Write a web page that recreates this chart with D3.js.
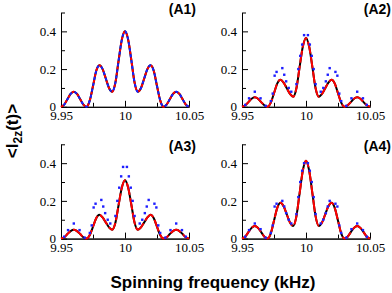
<!DOCTYPE html>
<html>
<head>
<meta charset="utf-8">
<script src="https://cdn.jsdelivr.net/npm/d3@7"></script>
<style>
  body { margin: 0; background: #fff; }
  .tick line, .domain { stroke: #000; stroke-width: 1px; }
  .title { font-family: "Liberation Sans", Arial, sans-serif; font-weight: bold; fill: #000; }
</style>
</head>
<body>
<div id="chart"></div>
<script>
// Spinning frequency grid (kHz) for the curves
var freq = [9.95, 9.9525, 9.955, 9.9575, 9.96, 9.9625, 9.965, 9.9675, 9.97, 9.9725,
  9.975, 9.9775, 9.98, 9.9825, 9.985, 9.9875, 9.99, 9.9925, 9.995, 9.9975, 10,
  10.0025, 10.005, 10.0075, 10.01, 10.0125, 10.015, 10.0175, 10.02, 10.0225, 10.025,
  10.0275, 10.03, 10.0325, 10.035, 10.0375, 10.04, 10.0425, 10.045, 10.0475, 10.05];

// exact (black) curves
var a1Exact = [0, 0.012, 0.04, 0.068, 0.08, 0.068, 0.04, 0.012, 0, 0.034, 0.11, 0.19, 0.22, 0.2, 0.15, 0.1, 0.08, 0.128, 0.245, 0.355, 0.4,
  0.355, 0.245, 0.128, 0.08, 0.1, 0.15, 0.2, 0.22, 0.19, 0.11, 0.034, 0, 0.012, 0.04, 0.068, 0.08, 0.068, 0.04, 0.012, 0];
var a2Exact = [0, 0.008, 0.025, 0.043, 0.05, 0.043, 0.025, 0.008, 0, 0.022, 0.072, 0.123, 0.143, 0.128, 0.098, 0.068, 0.053, 0.098, 0.21, 0.318, 0.365,
  0.318, 0.21, 0.098, 0.053, 0.068, 0.098, 0.128, 0.143, 0.123, 0.072, 0.022, 0, 0.008, 0.025, 0.043, 0.05, 0.043, 0.025, 0.008, 0];
var a3Exact = [0, 0.007, 0.024, 0.04, 0.047, 0.04, 0.024, 0.007, 0, 0.019, 0.063, 0.108, 0.126, 0.112, 0.086, 0.06, 0.047, 0.084, 0.178, 0.27, 0.31,
  0.27, 0.178, 0.084, 0.047, 0.06, 0.086, 0.112, 0.126, 0.108, 0.063, 0.019, 0, 0.007, 0.024, 0.04, 0.047, 0.04, 0.024, 0.007, 0];
var a4Exact = [0, 0.01, 0.034, 0.057, 0.067, 0.057, 0.034, 0.01, 0, 0.028, 0.095, 0.162, 0.19, 0.172, 0.128, 0.085, 0.067, 0.118, 0.24, 0.36, 0.413,
  0.36, 0.24, 0.118, 0.067, 0.085, 0.128, 0.172, 0.19, 0.162, 0.095, 0.028, 0, 0.01, 0.034, 0.057, 0.067, 0.057, 0.034, 0.01, 0];

// blue samples (A2-A4)
var blueFreq = [9.9525, 9.9555, 9.96, 9.9645, 9.9685, 9.9725, 9.974, 9.9755, 9.977, 9.9815, 9.983, 9.9845, 9.9865, 9.9885,
  9.9925, 9.994, 9.9955, 9.997, 9.9985, 10.0015, 10.003, 10.0045, 10.006, 10.0075,
  10.0115, 10.0135, 10.0155, 10.017, 10.0185, 10.023, 10.0245, 10.026, 10.0275, 10.0315, 10.0355, 10.04, 10.0445, 10.0475];
var a2Blue = [0.01, 0.045, 0.08, 0.045, 0.005, 0.03, 0.07, 0.165, 0.185, 0.205, 0.17, 0.135, 0.1, 0.08,
  0.12, 0.2, 0.27, 0.33, 0.38, 0.38, 0.33, 0.27, 0.2, 0.12,
  0.08, 0.1, 0.135, 0.17, 0.205, 0.185, 0.165, 0.07, 0.03, 0.005, 0.045, 0.08, 0.045, 0.01];
var a3Blue = a2Blue;
var a4Blue = [0.01, 0.045, 0.08, 0.05, 0.005, 0.03, 0.07, 0.17, 0.185, 0.2, 0.17, 0.135, 0.1, 0.08,
  0.13, 0.22, 0.3, 0.36, 0.4, 0.4, 0.36, 0.3, 0.22, 0.13,
  0.08, 0.1, 0.135, 0.17, 0.2, 0.185, 0.17, 0.07, 0.03, 0.005, 0.05, 0.08, 0.045, 0.01];

var yMajor = [0, 0.2, 0.4];
var yMinor = [0.1, 0.3, 0.5];
var xMajor = [9.95, 10, 10.05];
var xMinor = [9.975, 10.025];

var svgWidth = 392, svgHeight = 293;
var pw = 128, ph = 94.3;

var svg = d3.select("#chart").append("svg")
  .attr("width", svgWidth)
  .attr("height", svgHeight);

var panels = [
  { label: "(A1)", left: 61, top: 12.5, exact: a1Exact, blue: null, labelX: 196, labelY: 14 },
  { label: "(A2)", left: 242, top: 12.5, exact: a2Exact, blue: a2Blue, labelX: 391, labelY: 14 },
  { label: "(A3)", left: 61, top: 144.3, exact: a3Exact, blue: a3Blue, labelX: 196, labelY: 151 },
  { label: "(A4)", left: 242, top: 144.3, exact: a4Exact, blue: a4Blue, labelX: 391, labelY: 151 }
];

var x = d3.scaleLinear().domain([9.95, 10.05]).range([0, pw]);
var y = d3.scaleLinear().domain([0, 0.5]).range([ph, 0]);

var line = d3.line()
  .x(function(d) { return x(d[0]); })
  .y(function(d) { return y(d[1]); })
  .curve(d3.curveMonotoneX);

function serif(sel) {
  sel.selectAll("text")
    .style("font-family", '"Liberation Serif", "Times New Roman", serif')
    .style("font-size", "13px")
    .style("fill", "#000");
}

panels.forEach(function(p) {
  var g = svg.append("g").attr("transform", `translate(${p.left}, ${p.top})`);

  // minor ticks first (no labels), then major ticks with labels
  g.append("g")
    .attr("transform", `translate(0, ${ph})`)
    .call(d3.axisBottom(x).tickValues(xMinor).tickSizeInner(-4).tickSizeOuter(0).tickFormat(""));
  g.append("g")
    .attr("transform", `translate(0, ${ph})`)
    .call(d3.axisBottom(x).tickValues(xMajor).tickSizeInner(-6).tickSizeOuter(0).tickPadding(4)
      .tickFormat(function(d) { return d3.format("")(+d.toFixed(2)); }))
    .call(serif);
  g.append("g")
    .call(d3.axisLeft(y).tickValues(yMinor).tickSizeInner(-4).tickSizeOuter(0).tickFormat(""));
  g.append("g")
    .call(d3.axisLeft(y).tickValues(yMajor).tickSizeInner(-6).tickSizeOuter(0).tickPadding(5)
      .tickFormat(function(d) { return d3.format("")(+d.toFixed(1)); }))
    .call(serif);

  var pts = freq.map(function(f, i) { return [f, p.exact[i]]; });

  g.append("path").datum(pts)
    .attr("fill", "none").attr("stroke", "#000").attr("stroke-width", 2)
    .attr("d", line);

  if (p.blue === null) {
    g.append("path").datum(pts)
      .attr("fill", "none").attr("stroke", "#ff0000").attr("stroke-width", 2)
      .attr("stroke-dasharray", "3,3")
      .attr("d", line);
    g.append("path").datum(pts)
      .attr("fill", "none").attr("stroke", "#1e1eff").attr("stroke-width", 2)
      .attr("stroke-dasharray", "3,3").attr("stroke-dashoffset", 3)
      .attr("d", line);
  } else {
    g.append("path").datum(pts)
      .attr("fill", "none").attr("stroke", "#ff0000").attr("stroke-width", 2)
      .attr("stroke-dasharray", "12,3")
      .attr("d", line);
    g.selectAll("rect.dot")
      .data(blueFreq.map(function(f, i) { return [f, p.blue[i]]; }))
      .enter().append("rect")
      .attr("class", "dot")
      .attr("x", function(d) { return x(d[0]) - 1.2; })
      .attr("y", function(d) { return y(d[1]) - 1.2; })
      .attr("width", 2.4).attr("height", 2.4)
      .attr("fill", "#1e1eff");
  }

  svg.append("text")
    .attr("class", "title")
    .attr("x", p.labelX).attr("y", p.labelY)
    .attr("text-anchor", "end")
    .attr("font-size", 14)
    .text(p.label);
});

// axis titles
var yTitle = svg.append("text")
  .attr("class", "title")
  .attr("transform", "translate(18, 131) rotate(-90)")
  .attr("text-anchor", "middle")
  .attr("font-size", 17);
yTitle.append("tspan").text("<I");
yTitle.append("tspan").attr("font-size", 12).attr("dy", 4).text("2z");
yTitle.append("tspan").attr("dy", -4).text("(t)>");

svg.append("text")
  .attr("class", "title")
  .attr("x", 213).attr("y", 288)
  .attr("text-anchor", "middle")
  .attr("font-size", 17)
  .text("Spinning frequency (kHz)");
</script>
</body>
</html>
